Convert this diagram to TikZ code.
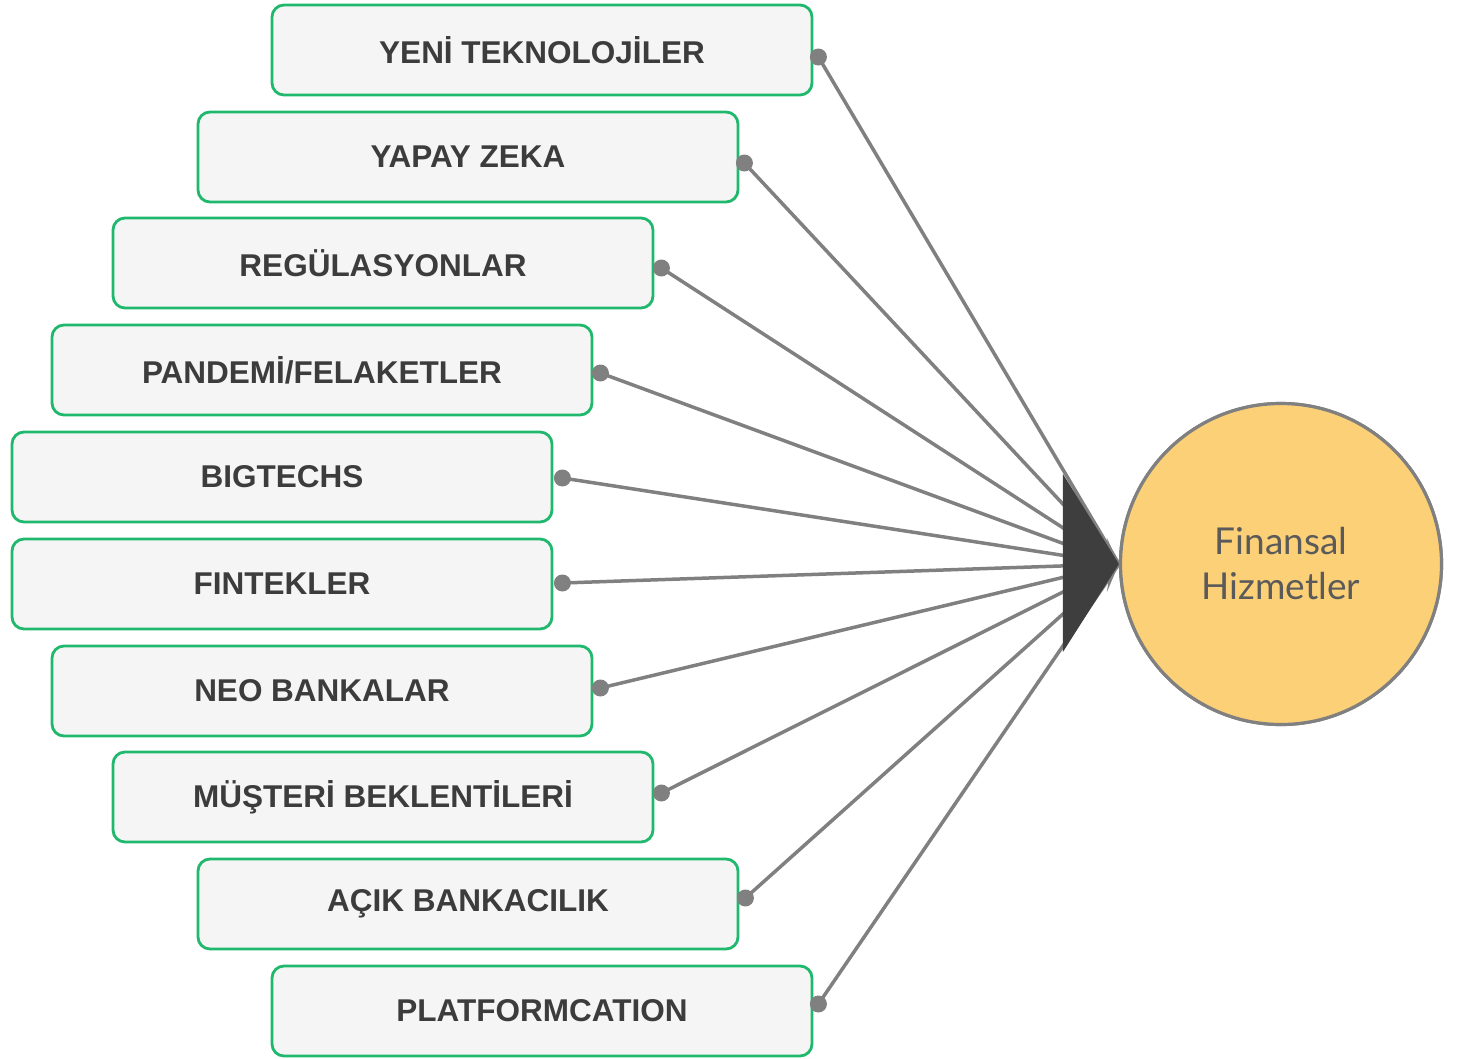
\documentclass[tikz,border=0pt]{standalone}
\usepackage{fontspec}
\setmainfont{Liberation Sans}
\newfontfamily\circfont{Lato}
\usetikzlibrary{calc}
\definecolor{boxgreen}{HTML}{20B86C}
\definecolor{boxfill}{HTML}{F5F5F5}
\definecolor{boxtext}{HTML}{3C3C3C}
\definecolor{linegray}{HTML}{808080}
\definecolor{tridark}{HTML}{3E3E3E}
\definecolor{circfill}{HTML}{FCD077}
\definecolor{circtext}{HTML}{5A5A5A}
\begin{document}
\begin{tikzpicture}[x=1pt,y=-1pt,
  factorbox/.style={draw=boxgreen, line width=2.8pt, fill=boxfill, rounded corners=12pt,
    minimum width=540pt, minimum height=90pt, inner sep=0pt, text=boxtext,
    font=\fontsize{31.5}{36}\selectfont\bfseries},
  conn/.style={draw=linegray, line width=3.5pt},
  dotmark/.style={fill=linegray},
  hub/.style={circle, draw=linegray, line width=3.2pt, fill=circfill, minimum size=321pt,
    inner sep=0pt, text=circtext, align=center, font=\circfont\fontsize{37}{45}\selectfont}
]
\useasboundingbox (0,0) rectangle (1465,1058);
\node[factorbox] (b1) at (542,50) {YENİ TEKNOLOJİLER};
\node[factorbox] (b2) at (468,157) {YAPAY ZEKA};
\node[factorbox] (b3) at (383,263) {REGÜLASYONLAR};
\node[factorbox] (b4) at (322,370) {PANDEMİ/FELAKETLER};
\node[factorbox] (b5) at (282,477) {BIGTECHS};
\node[factorbox] (b6) at (282,584) {FINTEKLER};
\node[factorbox] (b7) at (322,691) {NEO BANKALAR};
\node[factorbox] (b8) at (383,797) {MÜŞTERİ BEKLENTİLERİ};
\node[factorbox] (b9) at (468,904) {AÇIK BANKACILIK};
\node[factorbox] (b10) at (542,1011) {PLATFORMCATION};

\node[hub] (c) at (1281,564) {Finansal\\Hizmetler};
\coordinate (tip) at (c.west);

\coordinate (d1) at ($(b1.east)+(5,7)$);
\coordinate (d2) at ($(b2.east)+(5,6)$);
\coordinate (d3) at ($(b3.east)+(7,5)$);
\coordinate (d4) at ($(b4.east)+(7,3)$);
\coordinate (d5) at ($(b5.east)+(9,1)$);
\coordinate (d6) at ($(b6.east)+(9,-1)$);
\coordinate (d7) at ($(b7.east)+(7,-3)$);
\coordinate (d8) at ($(b8.east)+(7,-4)$);
\coordinate (d9) at ($(b9.east)+(6,-6)$);
\coordinate (d10) at ($(b10.east)+(5,-7)$);

\foreach \i in {1,...,10} {
  \draw[conn] (d\i) -- (tip);
  \fill[dotmark] (d\i) circle (8.5pt);
}
% small gray arrowheads under the big one
\fill[linegray] ($(tip)+(-12,-26)$) -- (tip) -- ($(tip)+(-12,28)$) -- ($(tip)+(-8,0)$) -- cycle;
% big dark arrowhead
\fill[tridark] ($(tip)+(-56,-90)$) -- (tip) -- ($(tip)+(-56,88)$) -- cycle;
% redraw hub on top
\node[hub] at (c.center) {Finansal\\Hizmetler};
\end{tikzpicture}
\end{document}
